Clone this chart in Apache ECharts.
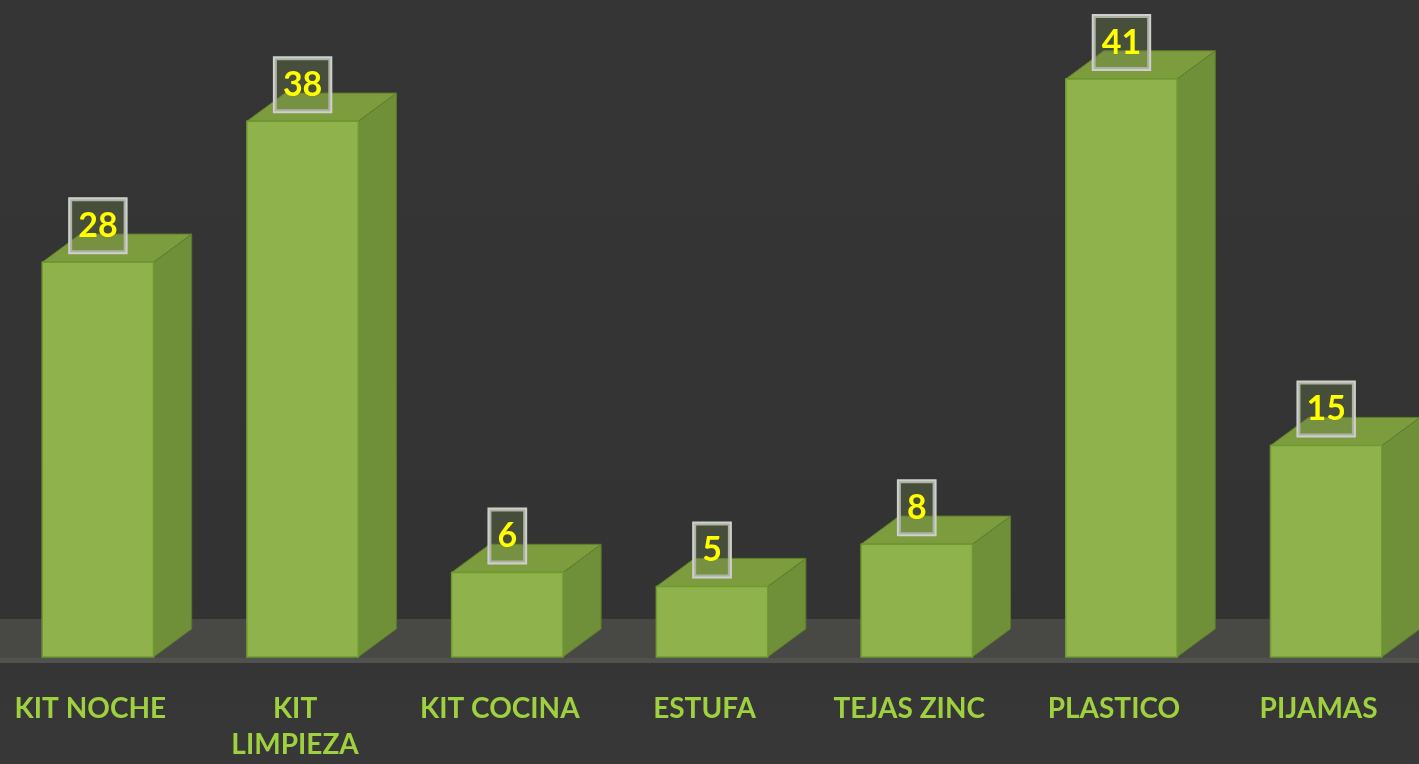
<!DOCTYPE html>
<html>
<head>
<meta charset="utf-8">
<script src="https://cdn.jsdelivr.net/npm/echarts@6/dist/echarts.min.js"></script>
<style>
html,body{margin:0;padding:0;background:#363636;}
#chart{width:1419px;height:764px;}
</style>
</head>
<body>
<div id="chart"></div>
<script>
const categories = ['KIT NOCHE', 'KIT\nLIMPIEZA', 'KIT COCINA', 'ESTUFA', 'TEJAS ZINC', 'PLASTICO', 'PIJAMAS'];
const values = [28, 38, 6, 5, 8, 41, 15];

const chart = echarts.init(document.getElementById('chart'));

function bar3d(params, api) {
  const i = api.value(0);
  const v = api.value(1);
  const top = api.coord([i, v]);
  const base = api.coord([i, 0]);
  const bw = api.size([1, 0])[0];
  const s = bw / 204;
  const x0 = top[0] - 48 * s;
  const w = 111 * s;
  const dx = 38 * s, dy = 28 * s;
  const yt = top[1], yb = base[1];
  return {
    type: 'group',
    children: [
      { type: 'polygon', shape: { points: [[x0 + w, yt], [x0 + w + dx, yt - dy], [x0 + w + dx, yb - dy], [x0 + w, yb]] },
        style: { fill: '#6f8f38', stroke: '#5a7a2a', lineWidth: 1 } },
      { type: 'polygon', shape: { points: [[x0, yt], [x0 + dx, yt - dy], [x0 + w + dx, yt - dy], [x0 + w, yt]] },
        style: { fill: '#7c9c3e', stroke: '#5f7f2c', lineWidth: 1 } },
      { type: 'rect', shape: { x: x0, y: yt, width: w, height: yb - yt },
        style: { fill: '#8fb24c', stroke: '#6f9a30', lineWidth: 1.5 } },
      { type: 'text', x: x0 + w / 2, y: yt - 10,
        style: { text: String(v), fill: '#ffff00', font: 'bold 34px Lato, "Open Sans", sans-serif',
          align: 'center', verticalAlign: 'bottom',
          backgroundColor: 'rgba(110,125,75,0.35)', borderColor: '#cfcfcf', borderWidth: 2,
          padding: [10, 8, 9, 8] } }
    ]
  };
}

function floor(params, api) {
  const base = api.coord([0, 0]);
  return {
    type: 'group',
    children: [
      { type: 'rect', shape: { x: 0, y: base[1] - 38, width: 1419, height: 40 },
        style: { fill: '#484845' } },
      { type: 'rect', shape: { x: 0, y: base[1] + 1, width: 1419, height: 5 },
        style: { fill: '#51514d' } }
    ]
  };
}

chart.setOption({
  backgroundColor: {
    type: 'linear', x: 0, y: 0, x2: 0, y2: 1,
    colorStops: [{ offset: 0, color: '#353535' }, { offset: 0.8, color: '#333333' }, { offset: 1, color: '#383838' }]
  },
  animation: false,
  grid: { left: -12, width: 1433, top: 22.5, bottom: 107, containLabel: false, outerBoundsMode: 'none' },
  xAxis: {
    type: 'category', data: categories,
    axisLine: { show: false }, axisTick: { show: false },
    axisLabel: { color: '#9fd03f', fontSize: 28, fontWeight: 'bold', fontFamily: 'Lato, "Open Sans", sans-serif',
      margin: 34, lineHeight: 36, interval: 0, verticalAlign: 'top' },
    splitLine: { show: false }
  },
  yAxis: { type: 'value', min: 0, max: 45, show: false, splitLine: { show: false } },
  series: [
    { type: 'custom', renderItem: floor, data: [[0, 0]], silent: true, z: 1 },
    { type: 'custom', renderItem: bar3d, data: values.map((v, i) => [i, v]), z: 2 }
  ]
});
</script>
</body>
</html>
